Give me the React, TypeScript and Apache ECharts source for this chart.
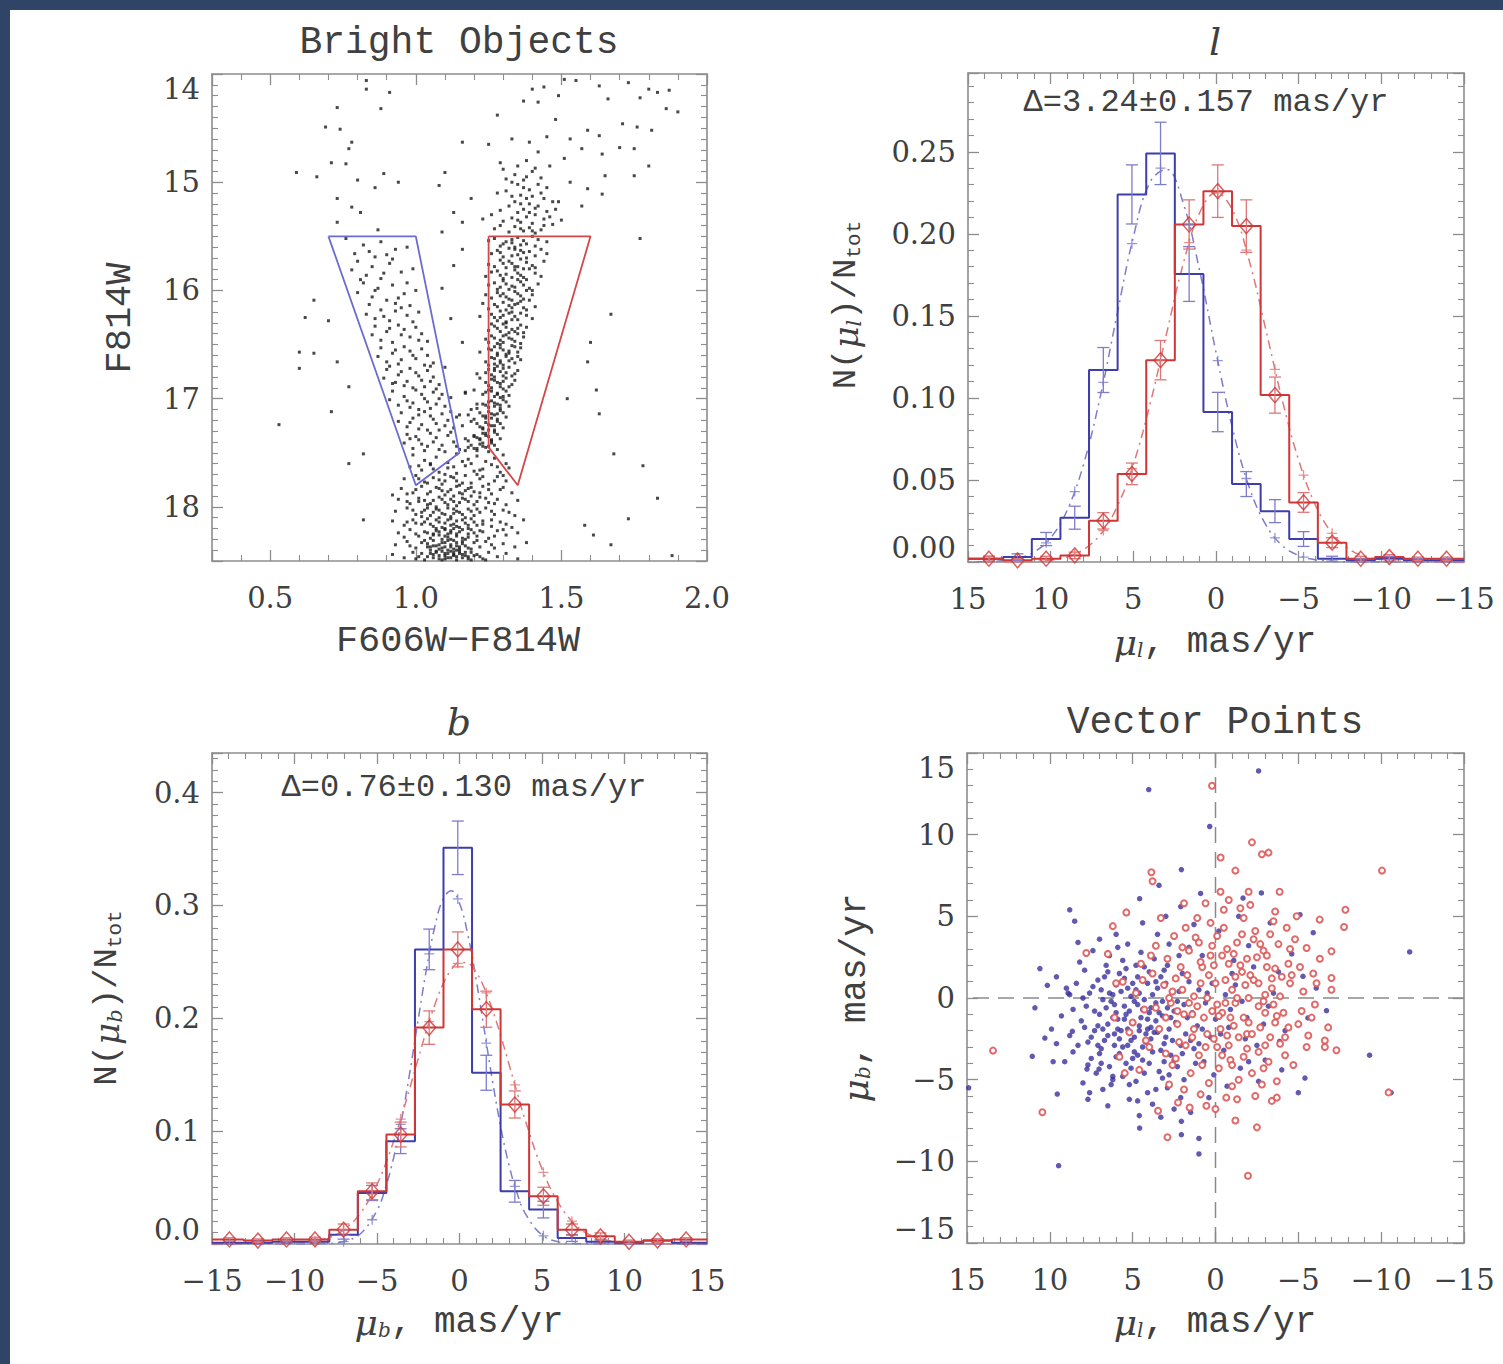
import React, { useEffect, useRef } from 'react';
import * as echarts from 'echarts';

// ---------- histogram bins (shared by the l and b panels) ----------
const binEdges = [-14.81, -13.08, -11.35, -9.62, -7.89, -6.16, -4.43, -2.70, -0.97, 0.76, 2.49, 4.22, 5.95, 7.68, 9.41, 11.14, 12.87, 14.60];
const binCenters = [-13.945, -12.215, -10.485, -8.755, -7.025, -5.295, -3.565, -1.835, -0.105, 1.625, 3.355, 5.085, 6.815, 8.545, 10.275, 12.005, 13.735];

// l panel
const lBlue = [0.001, 0.001, 0.002, 0.001, 0.002, 0.014, 0.031, 0.0475, 0.0914, 0.1755, 0.249, 0.224, 0.117, 0.027, 0.014, 0.003, 0.002];
const lBlueErr = [0.001, 0.001, 0.0015, 0.001, 0.0015, 0.0045, 0.007, 0.0076, 0.012, 0.0167, 0.019, 0.018, 0.0137, 0.007, 0.004, 0.002, 0.0015];
const lRed = [0.002, 0.002, 0.003, 0.002, 0.0118, 0.0363, 0.1017, 0.2047, 0.226, 0.2057, 0.123, 0.0537, 0.0251, 0.004, 0.002, 0.001, 0.002];
const lRedErr = [0.001, 0.001, 0.0015, 0.0015, 0.003, 0.006, 0.011, 0.016, 0.016, 0.015, 0.012, 0.0066, 0.005, 0.002, 0.0015, 0.001, 0.0015];
const lFitBlueAtBins = [null, null, null, null, null, 0.003, 0.0147, 0.0509, 0.1227, 0.2057, 0.24, 0.194, 0.1095, 0.0429, 0.0117, null, null];
const lFitRedAtBins = [null, null, null, null, 0.0175, 0.053, 0.1174, 0.19, 0.225, 0.1946, 0.123, 0.0569, 0.0192, 0.0047, null, null, null];
const lGaussX = [-15, -14, -13, -12, -11, -10, -9, -8, -7, -6, -5, -4, -3, -2, -1, 0, 1, 2, 3, 4, 5, 6, 7, 8, 9, 10, 11, 12, 13, 14, 15];
const lGaussBlue = [0, 0, 0, 0, 0, 0, 0, 0.0001, 0.0004, 0.0014, 0.004, 0.0101, 0.0229, 0.0459, 0.0814, 0.1278, 0.178, 0.2193, 0.2393, 0.2313, 0.198, 0.15, 0.1008, 0.0599, 0.0316, 0.0147, 0.0061, 0.0022, 0.0007, 0.0002, 0.0001];
const lGaussRed = [0, 0, 0, 0.0002, 0.0005, 0.0013, 0.0034, 0.0081, 0.0178, 0.035, 0.062, 0.099, 0.1422, 0.184, 0.2144, 0.225, 0.2126, 0.181, 0.1387, 0.0958, 0.0595, 0.0333, 0.0167, 0.0077, 0.0031, 0.0011, 0.0004, 0.0001, 0, 0, 0];

// b panel
const bBlue = [0.001, 0.001, 0.002, 0.002, 0.0083, 0.0452, 0.0911, 0.261, 0.351, 0.1517, 0.0467, 0.0305, 0.0053, 0.002, 0.001, 0.003, 0.001];
const bBlueErr = [0.0015, 0.0015, 0.0015, 0.0015, 0.004, 0.0067, 0.011, 0.018, 0.0237, 0.0155, 0.0096, 0.0074, 0.003, 0.0015, 0.0015, 0.0015, 0.0015];
const bRed = [0.004, 0.003, 0.004, 0.004, 0.0127, 0.0467, 0.097, 0.1917, 0.261, 0.208, 0.1236, 0.0423, 0.0127, 0.0068, 0.002, 0.003, 0.004];
const bRedErr = [0.0015, 0.0015, 0.0015, 0.002, 0.005, 0.0074, 0.011, 0.0148, 0.0155, 0.016, 0.012, 0.008, 0.005, 0.003, 0.0015, 0.0015, 0.0015];
const bFitBlueAtBins = [null, null, null, null, 0.0021, 0.0215, 0.106, 0.257, 0.3057, 0.178, 0.051, 0.0072, null, null, null, null, null];
const bFitRedAtBins = [null, null, null, 0.0025, 0.0124, 0.0441, 0.1107, 0.197, 0.2487, 0.2225, 0.141, 0.0635, 0.0202, 0.0046, null, null, null];
const bGaussX = [-15, -12, -10, -8, -7, -6, -5, -4.5, -4, -3.5, -3, -2.5, -2, -1.5, -1, -0.5, 0, 0.5, 1, 1.5, 2, 2.5, 3, 3.5, 4, 5, 6, 7, 8, 10, 12, 15];
const bGaussBlue = [0, 0, 0, 0.0004, 0.0022, 0.0091, 0.0297, 0.049, 0.076, 0.111, 0.1532, 0.199, 0.2438, 0.281, 0.3055, 0.313, 0.3019, 0.2745, 0.2352, 0.19, 0.1444, 0.1035, 0.0699, 0.0445, 0.0267, 0.008, 0.0019, 0.0004, 0.0001, 0, 0, 0];
const bGaussRed = [0, 0, 0.0006, 0.0053, 0.0127, 0.0274, 0.0529, 0.0702, 0.0907, 0.1138, 0.1388, 0.1644, 0.1893, 0.2118, 0.2301, 0.243, 0.2494, 0.2488, 0.241, 0.2269, 0.2075, 0.1845, 0.1593, 0.1337, 0.109, 0.0665, 0.0362, 0.0175, 0.0076, 0.001, 0.0001, 0];

// ---------- CMD (colour, magnitude) ----------
const cmdField = [0.83,14.06, 0.83,14.14, 0.91,14.17, 0.73,14.31, 0.88,14.32, 0.69,14.49, 0.74,14.51, 0.78,14.63, 0.77,14.69, 0.71,14.82, 0.76,14.83, 0.59,14.91, 0.66,14.95, 0.8,14.98, 0.89,14.92, 0.86,15.05, 0.94,15.0, 0.73,15.15, 0.78,15.23, 0.81,15.28, 0.73,15.37, 0.87,15.44, 1.08,15.03, 1.13,15.28, 1.16,15.37, 1.09,15.46, 1.16,15.62, 0.65,16.09, 0.62,16.25, 0.7,16.28, 0.6,16.57, 0.65,16.58, 0.73,16.66, 0.6,16.72, 0.77,16.89, 0.53,17.24, 0.77,17.6, 0.82,17.51, 0.71,17.12, 0.92,17.89, 0.82,18.12, 1.01,17.15, 1.1,16.71, 1.16,16.48, 1.12,16.26, 1.09,15.98, 1.13,15.77, 1.18,17.15, 1.17,16.94,
  1.51,14.05, 1.55,14.06, 1.63,14.11, 1.66,14.23, 1.73,14.08, 1.77,14.22, 1.8,14.14, 1.83,14.17, 1.87,14.15, 1.9,14.35, 1.86,14.32, 1.71,14.46, 1.76,14.49, 1.81,14.52, 1.63,14.57, 1.59,14.52, 1.53,14.6, 1.48,14.42, 1.42,14.26, 1.4,14.14, 1.37,14.25, 1.44,14.12, 1.49,14.2, 1.45,14.58, 1.39,14.63, 1.57,14.69, 1.64,14.74, 1.7,14.68, 1.75,14.69, 1.8,14.85, 1.75,14.94, 1.65,14.94, 1.59,15.06, 1.64,15.11, 1.53,15.0, 1.49,15.18, 1.57,15.22, 1.77,15.52, 1.67,16.22, 1.6,16.48, 1.59,16.66, 1.62,16.92, 1.52,17.0, 1.63,17.14, 1.68,17.51, 1.73,18.11, 1.58,18.17, 1.61,18.26, 1.78,17.62, 1.83,17.92, 1.88,18.45, 1.67,18.35, 1.28,14.38, 1.33,14.6, 1.25,14.65, 1.29,14.82, 1.16,14.63, 1.1,14.91, 1.19,15.15, 1.23,15.34, 1.46,14.85, 1.51,14.78, 1.42,14.72];
const cmdClump = [1.30,14.88, 1.35,14.85, 1.40,14.90, 1.38,14.95, 1.33,15.00, 1.42,15.02, 1.45,15.05, 1.37,15.05, 1.31,15.08, 1.28,15.10, 1.36,15.12, 1.40,15.13, 1.44,15.15, 1.47,15.18, 1.34,15.18, 1.39,15.20, 1.32,15.22, 1.42,15.22, 1.37,15.25, 1.29,15.26, 1.45,15.27, 1.35,15.28, 1.41,15.30, 1.38,15.32, 1.33,15.33, 1.44,15.34, 1.30,15.36, 1.36,15.37, 1.40,15.38, 1.47,15.39, 1.34,15.41, 1.39,15.42, 1.27,15.43, 1.43,15.44, 1.37,15.45, 1.32,15.46, 1.41,15.47, 1.36,15.20, 1.38,15.15, 1.43,15.10, 1.35,15.35, 1.39,15.28, 1.41,15.24, 1.33,15.13, 1.46,15.32, 1.31,14.97, 1.37,14.98, 1.43,14.96, 1.39,15.07, 1.35,15.02, 1.48,15.25, 1.26,15.30, 1.50,15.35, 1.29,15.40, 1.44,15.40, 1.36,15.43, 1.40,15.45, 1.34,14.93, 1.41,14.87, 1.38,14.80];
const cmdRightBranch = [1.27,15.52, 1.31,15.55, 1.35,15.51, 1.38,15.57, 1.42,15.53, 1.29,15.59, 1.33,15.56, 1.40,15.50, 1.36,15.58, 1.45,15.55, 1.25,15.54,
  1.28,15.63, 1.32,15.61, 1.35,15.67, 1.39,15.64, 1.43,15.62, 1.30,15.69, 1.37,15.65, 1.26,15.66, 1.41,15.68, 1.34,15.62,
  1.29,15.72, 1.33,15.75, 1.36,15.71, 1.40,15.77, 1.27,15.78, 1.31,15.79, 1.38,15.74, 1.44,15.73, 1.35,15.78, 1.25,15.76,
  1.28,15.82, 1.31,15.85, 1.34,15.81, 1.37,15.88, 1.41,15.84, 1.30,15.89, 1.36,15.86, 1.26,15.83, 1.39,15.80, 1.43,15.87,
  1.27,15.93, 1.30,15.91, 1.33,15.96, 1.36,15.92, 1.39,15.98, 1.32,15.99, 1.29,15.97, 1.42,15.94, 1.35,15.90, 1.25,15.95,
  1.28,16.02, 1.31,16.06, 1.34,16.01, 1.37,16.08, 1.40,16.04, 1.33,16.09, 1.26,16.07, 1.30,16.03, 1.36,16.05, 1.38,16.00,
  1.27,16.13, 1.30,16.11, 1.33,16.16, 1.35,16.12, 1.38,16.18, 1.29,16.19, 1.32,16.14, 1.41,16.15, 1.25,16.17, 1.36,16.10,
  1.26,16.22, 1.29,16.25, 1.32,16.21, 1.35,16.27, 1.38,16.23, 1.31,16.29, 1.28,16.28, 1.34,16.24, 1.40,16.26, 1.33,16.20,
  1.27,16.33, 1.30,16.31, 1.33,16.36, 1.36,16.32, 1.29,16.38, 1.32,16.39, 1.35,16.35, 1.25,16.37, 1.38,16.34, 1.31,16.30,
  1.26,16.42, 1.29,16.46, 1.31,16.41, 1.34,16.47, 1.37,16.43, 1.28,16.49, 1.32,16.44, 1.35,16.40, 1.30,16.48, 1.24,16.45,
  1.27,16.52, 1.30,16.55, 1.33,16.51, 1.35,16.57, 1.28,16.58, 1.31,16.59, 1.25,16.54, 1.36,16.53, 1.29,16.50, 1.32,16.56,
  1.26,16.62, 1.29,16.65, 1.31,16.61, 1.34,16.67, 1.27,16.68, 1.30,16.69, 1.33,16.63, 1.24,16.66, 1.36,16.64, 1.28,16.60,
  1.27,16.72, 1.29,16.75, 1.32,16.71, 1.34,16.77, 1.26,16.78, 1.30,16.79, 1.25,16.73, 1.31,16.76, 1.28,16.70, 1.35,16.74,
  1.26,16.82, 1.28,16.85, 1.31,16.81, 1.33,16.87, 1.25,16.88, 1.29,16.89, 1.30,16.84, 1.27,16.80, 1.34,16.83,
  1.25,16.92, 1.28,16.95, 1.30,16.91, 1.32,16.97, 1.27,16.98, 1.29,16.99, 1.24,16.94, 1.31,16.93, 1.26,16.90,
  1.26,17.02, 1.28,17.05, 1.30,17.01, 1.32,17.07, 1.25,17.08, 1.29,17.09, 1.27,17.04, 1.24,17.06, 1.31,17.03,
  1.25,17.12, 1.27,17.15, 1.29,17.11, 1.31,17.17, 1.24,17.18, 1.28,17.19, 1.26,17.14, 1.30,17.13, 1.23,17.16,
  1.24,17.22, 1.26,17.25, 1.28,17.21, 1.30,17.27, 1.23,17.28, 1.27,17.29, 1.25,17.24, 1.29,17.23, 1.22,17.26,
  1.23,17.32, 1.25,17.35, 1.27,17.31, 1.29,17.37, 1.22,17.38, 1.26,17.39, 1.24,17.34, 1.28,17.33, 1.21,17.36,
  1.22,17.42, 1.24,17.45, 1.26,17.41, 1.28,17.47, 1.21,17.48, 1.25,17.49, 1.23,17.44, 1.27,17.43, 1.20,17.46];
const cmdRightBranch2 = [1.33,15.53, 1.37,15.54, 1.30,15.57, 1.41,15.59, 1.34,15.6, 1.29,15.65, 1.36,15.63, 1.33,15.68, 1.38,15.7, 1.45,15.66,
  1.30,15.75, 1.34,15.78, 1.37,15.8, 1.32,15.73, 1.41,15.79, 1.29,15.86, 1.35,15.84, 1.33,15.88, 1.38,15.9, 1.24,15.87,
  1.31,15.94, 1.34,15.97, 1.37,15.95, 1.28,15.99, 1.40,16.0, 1.29,16.05, 1.32,16.08, 1.35,16.03, 1.39,16.09, 1.24,16.04,
  1.28,16.15, 1.31,16.18, 1.34,16.13, 1.37,16.16, 1.23,16.12, 1.27,16.25, 1.30,16.23, 1.33,16.27, 1.36,16.21, 1.22,16.24,
  1.28,16.35, 1.31,16.34, 1.34,16.38, 1.26,16.31, 1.37,16.39, 1.27,16.44, 1.30,16.42, 1.33,16.45, 1.25,16.48, 1.36,16.49,
  1.26,16.55, 1.29,16.53, 1.32,16.58, 1.34,16.52, 1.22,16.57, 1.27,16.63, 1.29,16.67, 1.32,16.65, 1.25,16.69, 1.35,16.61,
  1.24,16.76, 1.27,16.74, 1.30,16.72, 1.33,16.79, 1.21,16.77, 1.24,16.85, 1.27,16.83, 1.29,16.86, 1.32,16.89, 1.22,16.81,
  1.23,16.96, 1.26,16.93, 1.28,16.96, 1.30,16.98, 1.20,16.92, 1.23,17.05, 1.25,17.03, 1.27,17.07, 1.29,17.06, 1.21,17.09,
  1.22,17.13, 1.24,17.16, 1.26,17.18, 1.28,17.14, 1.20,17.19, 1.21,17.23, 1.23,17.27, 1.25,17.29, 1.27,17.25, 1.19,17.21,
  1.20,17.34, 1.22,17.37, 1.24,17.32, 1.26,17.38, 1.18,17.39, 1.19,17.43, 1.21,17.46, 1.23,17.41, 1.25,17.44, 1.17,17.48];
const cmdLeftBranch = [0.76,15.52, 0.82,15.58, 0.88,15.55, 0.93,15.62, 0.79,15.66, 0.86,15.69, 0.97,15.6, 0.90,15.67,
  0.80,15.73, 0.85,15.78, 0.91,15.75, 0.95,15.83, 0.83,15.86, 0.88,15.89, 0.99,15.8, 0.78,15.81,
  0.82,15.93, 0.87,15.98, 0.92,15.95, 0.96,16.03, 0.85,16.06, 0.90,16.09, 1.00,16.0, 0.94,16.07, 0.80,16.02,
  0.84,16.13, 0.88,16.18, 0.93,16.12, 0.97,16.23, 0.86,16.26, 0.91,16.28, 1.01,16.2, 0.95,16.16, 0.99,16.29, 0.83,16.22,
  0.86,16.33, 0.90,16.38, 0.94,16.32, 0.98,16.43, 0.88,16.46, 0.92,16.48, 1.02,16.4, 0.96,16.36, 1.04,16.47, 0.85,16.41, 1.00,16.34,
  0.88,16.53, 0.92,16.58, 0.96,16.52, 1.00,16.63, 0.90,16.66, 0.94,16.68, 1.04,16.6, 0.98,16.56, 1.06,16.67, 0.87,16.61, 1.02,16.54, 0.95,16.64,
  0.90,16.73, 0.94,16.78, 0.98,16.72, 1.02,16.83, 0.92,16.86, 0.96,16.88, 1.06,16.8, 1.00,16.76, 1.08,16.87, 0.89,16.81, 1.04,16.74, 0.97,16.84, 1.03,16.89,
  0.92,16.93, 0.96,16.98, 1.00,16.92, 1.04,17.03, 0.94,17.06, 0.98,17.08, 1.08,17.0, 1.02,16.96, 1.10,17.07, 0.91,17.01, 1.06,16.94, 0.99,17.04, 1.05,17.09, 1.12,16.99,
  0.95,17.13, 0.99,17.18, 1.03,17.12, 1.07,17.23, 0.97,17.26, 1.01,17.28, 1.11,17.2, 1.05,17.16, 1.13,17.27, 0.94,17.21, 1.09,17.14, 1.02,17.24, 1.08,17.29, 1.14,17.17,
  0.97,17.33, 1.01,17.38, 1.05,17.32, 1.09,17.43, 0.99,17.46, 1.03,17.48, 1.13,17.4, 1.07,17.36, 1.15,17.47, 0.96,17.41, 1.11,17.34, 1.04,17.44, 1.10,17.49, 1.17,17.37,
  1.17,16.95, 1.19,17.1, 1.16,17.25, 1.20,17.35, 1.18,17.45, 1.21,17.05, 1.15,17.15];
const cmdLeftBranch2 = [0.84,15.64, 0.92,15.71, 0.81,15.9, 0.89,15.84, 0.97,15.93, 0.86,16.0, 0.93,16.19, 0.89,16.24, 0.98,16.14, 0.95,16.41, 0.91,16.35, 1.01,16.46, 0.93,16.55, 0.99,16.6, 1.03,16.69, 0.91,16.7, 0.95,16.75, 1.01,16.79, 1.05,16.84, 0.99,16.9, 0.93,16.85, 1.03,17.0, 1.07,17.05, 0.97,17.02, 1.01,17.1, 1.06,17.19, 1.10,17.25, 0.98,17.22, 1.04,17.29, 1.12,17.31, 1.00,17.35, 1.06,17.4, 1.08,17.47, 1.02,17.42, 1.14,17.44, 0.98,17.37, 1.12,17.12, 1.09,16.96, 1.07,16.91, 1.05,16.7];
const cmdTurnoff = [0.99,17.52, 1.03,17.57, 1.07,17.54, 1.11,17.59, 1.14,17.51, 1.18,17.56, 1.21,17.53, 1.24,17.58, 1.27,17.55, 1.30,17.52, 1.05,17.6, 1.16,17.58,
  0.98,17.63, 1.02,17.66, 1.05,17.61, 1.08,17.68, 1.11,17.64, 1.14,17.69, 1.17,17.62, 1.20,17.67, 1.23,17.65, 1.26,17.61, 1.29,17.68, 1.32,17.64, 1.10,17.7, 1.19,17.6,
  0.96,17.74, 1.00,17.71, 1.03,17.77, 1.06,17.73, 1.09,17.79, 1.12,17.72, 1.14,17.76, 1.17,17.71, 1.19,17.78, 1.22,17.74, 1.25,17.79, 1.28,17.72, 1.31,17.76, 1.08,17.75, 1.15,17.8, 1.21,17.7,
  0.95,17.83, 0.99,17.87, 1.02,17.81, 1.05,17.86, 1.07,17.82, 1.10,17.89, 1.12,17.84, 1.14,17.81, 1.16,17.88, 1.18,17.83, 1.20,17.86, 1.23,17.81, 1.26,17.88, 1.29,17.84, 1.33,17.87, 1.09,17.85, 1.13,17.9, 1.17,17.85,
  0.94,17.93, 0.98,17.97, 1.01,17.92, 1.04,17.98, 1.06,17.94, 1.08,17.91, 1.10,17.96, 1.12,17.93, 1.14,17.99, 1.16,17.92, 1.18,17.95, 1.20,17.98, 1.22,17.91, 1.25,17.96, 1.28,17.93, 1.31,17.98, 1.35,17.94, 1.07,18.0, 1.13,17.95, 1.19,17.9,
  0.93,18.04, 0.97,18.01, 1.00,18.07, 1.03,18.03, 1.05,18.08, 1.07,18.02, 1.09,18.06, 1.11,18.01, 1.12,18.09, 1.14,18.04, 1.16,18.07, 1.18,18.02, 1.20,18.08, 1.22,18.05, 1.24,18.01, 1.27,18.07, 1.30,18.03, 1.34,18.08, 1.08,18.1, 1.13,18.06, 1.17,18.1, 1.02,18.09,
  0.92,18.13, 0.96,18.17, 0.99,18.12, 1.02,18.16, 1.04,18.11, 1.06,18.18, 1.08,18.14, 1.09,18.19, 1.11,18.12, 1.12,18.17, 1.14,18.13, 1.15,18.19, 1.17,18.15, 1.19,18.11, 1.21,18.17, 1.23,18.13, 1.26,18.18, 1.29,18.14, 1.33,18.19, 1.37,18.12, 1.10,18.2, 1.13,18.16, 1.07,18.2, 1.18,18.2,
  0.94,18.24, 0.98,18.21, 1.01,18.27, 1.03,18.23, 1.05,18.29, 1.07,18.22, 1.08,18.26, 1.10,18.21, 1.11,18.28, 1.12,18.24, 1.13,18.2, 1.14,18.27, 1.15,18.23, 1.16,18.29, 1.18,18.25, 1.19,18.21, 1.21,18.27, 1.23,18.23, 1.25,18.29, 1.28,18.22, 1.31,18.26, 1.35,18.24, 1.09,18.3, 1.12,18.3, 1.06,18.25, 1.17,18.3,
  0.93,18.35, 0.97,18.32, 1.00,18.38, 1.02,18.33, 1.04,18.37, 1.06,18.31, 1.07,18.36, 1.08,18.39, 1.09,18.33, 1.10,18.37, 1.11,18.31, 1.12,18.35, 1.13,18.39, 1.14,18.33, 1.15,18.37, 1.16,18.32, 1.17,18.36, 1.19,18.39, 1.20,18.33, 1.22,18.37, 1.24,18.32, 1.27,18.38, 1.30,18.34, 1.34,18.37, 1.38,18.33, 1.11,18.4, 1.14,18.4, 1.05,18.4,
  0.92,18.44, 0.96,18.47, 0.99,18.42, 1.01,18.46, 1.03,18.49, 1.05,18.43, 1.06,18.47, 1.07,18.41, 1.08,18.45, 1.09,18.49, 1.10,18.43, 1.11,18.47, 1.12,18.41, 1.13,18.45, 1.14,18.49, 1.15,18.43, 1.16,18.47, 1.17,18.42, 1.18,18.46, 1.19,18.49, 1.21,18.44, 1.23,18.48, 1.25,18.42, 1.28,18.46, 1.31,18.43, 1.35,18.48, 1.10,18.48, 1.13,18.44];
const cmdTurnoff2 = [1.04,18.46, 1.06,18.44, 1.08,18.48, 1.10,18.45, 1.12,18.47, 1.14,18.46, 1.16,18.44, 1.18,18.48, 1.20,18.45, 1.07,18.42, 1.09,18.41, 1.11,18.43, 1.13,18.42, 1.15,18.41, 1.17,18.45, 1.19,18.42, 1.02,18.43, 1.22,18.46, 1.24,18.49, 1.00,18.48,
  1.04,18.34, 1.06,18.36, 1.08,18.35, 1.10,18.33, 1.12,18.37, 1.14,18.36, 1.16,18.34, 1.18,18.38, 1.03,18.31, 1.13,18.31, 1.21,18.31, 1.09,18.38, 1.05,18.37, 1.15,18.39, 1.26,18.35, 0.98,18.36,
  1.04,18.24, 1.06,18.26, 1.08,18.23, 1.10,18.27, 1.12,18.22, 1.14,18.25, 1.16,18.21, 1.18,18.28, 1.20,18.24, 1.22,18.22, 1.00,18.25, 1.27,18.27, 1.11,18.25, 0.96,18.28, 1.30,18.21,
  1.03,18.14, 1.05,18.16, 1.07,18.12, 1.10,18.15, 1.12,18.11, 1.14,18.18, 1.16,18.12, 1.18,18.17, 1.20,18.14, 1.23,18.16, 1.00,18.15, 1.26,18.12, 0.97,18.14, 1.31,18.16,
  1.02,18.05, 1.04,18.01, 1.06,18.05, 1.08,18.03, 1.10,18.07, 1.13,18.02, 1.15,18.05, 1.19,18.04, 1.21,18.02, 1.26,18.04, 0.99,18.03, 1.32,18.05,
  1.01,17.95, 1.03,17.94, 1.05,17.97, 1.09,17.93, 1.11,17.98, 1.15,17.96, 1.17,17.93, 1.21,17.95, 1.24,17.92, 1.27,17.97, 0.97,17.95,
  1.00,17.84, 1.04,17.88, 1.08,17.83, 1.11,17.86, 1.15,17.87, 1.19,17.82, 1.22,17.87, 1.25,17.84, 1.30,17.82, 0.97,17.88,
  1.01,17.74, 1.04,17.78, 1.10,17.76, 1.13,17.73, 1.16,17.78, 1.23,17.72, 1.27,17.76, 1.30,17.71, 1.01,17.62, 1.06,17.65, 1.13,17.63, 1.22,17.66, 1.28,17.63, 1.31,17.6];
const blueBox = [[0.70, 15.5], [1.0, 15.5], [1.15, 17.5], [1.0, 17.8], [0.70, 15.5]];
const redBox = [[1.25, 15.5], [1.6, 15.5], [1.35, 17.8], [1.25, 17.45], [1.25, 15.5]];

// ---------- vector point diagram (mu_l, mu_b) ----------
const vecBlue = [4.03,12.76, -2.6,13.9, 0.35,10.5, 2.06,7.86, 3.41,6.9, 4.58,6.08, 8.8,5.4, 8.5,4.7, 10.15,0.78, 10.9,-0.6, 10.3,-2.45, 11.06,-3.57, 9.8,-3.9, 9.55,-5.88, 7.7,-6.2, 9.47,-10.27, 14.9,-5.5, 4.58,-7.96, 2.06,-7.55, 2.06,-8.37, 1.0,-8.6, 1.0,-9.55, -11.72,2.82, -9.3,-3.5, -10.6,-5.8, -5.4,-4.9, -5.1,5.1, -5.9,4.0, -6.7,-0.78, -2.77,6.43, -1.66,6.12, -5.0,-5.8, -3.87,-2.65, -5.58,-1.22, -6.08,0.61, -5.28,1.33, 7.76,-4.35, 7.03,-4.35, 6.2,-5.0, 8.8,0.2, 8.64,-2.04,
  5.2,-0.8, 4.1,-1.3, 6.3,-0.2, 3.5,-2.1, 7.0,-1.0, 4.8,0.5, 2.9,-0.6, 5.9,-1.9, 3.8,0.2, 6.7,-2.6, 4.4,-3.0, 5.5,1.2, 2.4,-1.5, 7.6,0.3, 3.1,-2.8, 6.0,0.8, 4.6,-1.7, 5.8,-3.4, 2.2,0.4, 8.1,-1.4, 3.6,-0.3, 4.9,-2.4, 6.5,1.6, 1.8,-2.2, 7.3,-2.0, 5.1,0.1, 3.3,1.3, 6.2,-1.2, 4.0,-4.0, 2.7,-3.5, 5.6,2.3, 8.4,0.9, 1.4,-0.9, 6.9,-3.1, 3.9,-1.8, 4.3,1.9, 7.8,-0.5, 5.3,-2.9, 2.0,1.5, 6.4,-4.2, 3.0,0.9, 4.7,-0.4, 5.0,-3.7, 7.1,1.1, 1.1,-1.7, 6.8,-0.1, 3.4,-4.5, 4.5,2.8, 8.8,-2.3, 2.6,-2.6, 5.7,0.4, 0.6,-0.3, 6.1,-2.2, 3.7,2.4, 4.2,-2.7, 7.5,-3.7, 1.6,1.0, 5.4,-1.0, 2.3,-4.2, 6.6,2.0, 0.3,-2.4, 4.8,-5.1, 3.2,-1.1, 7.9,1.7, 5.9,3.1, 1.0,0.5, 6.3,-5.3, 2.8,3.3, 4.1,-5.8, 0.0,-1.3, -0.5,-3.2, -1.2,0.8, 1.9,-5.0, 3.5,3.9, 5.2,-6.2, -0.9,-0.7, -1.8,-2.5, 0.8,2.6, -2.3,1.9, 2.5,-6.8, -0.2,4.1, -2.9,-1.6, -1.5,-4.3, 1.3,4.5, -3.5,0.3, -0.7,-5.4, 1.5,-7.0, -2.0,3.2, 0.4,-6.1, -3.0,-3.8, -1.1,2.3, 9.3,-1.1, 9.0,0.6, 8.6,-3.3, 9.6,-2.8, 7.4,2.9, 6.0,3.9, 8.2,2.2, 4.4,4.6, 2.1,5.6, 3.0,5.0, 5.6,-4.8, 7.2,-4.6, 6.8,-5.6, 3.8,-6.5, 2.9,-5.5, 4.6,-7.2, 1.2,-4.0, 0.1,-4.7, -4.2,-2.0, -3.8,1.6, -2.6,-5.1, -4.6,2.7, -1.4,5.0, 0.9,6.4, -3.3,4.6, -4.0,-4.4,
  4.0,-0.9, 5.0,-1.5, 3.6,-1.4, 4.6,-2.0, 5.5,-0.5, 3.2,-0.2, 6.0,-0.9, 4.3,-0.1, 2.8,-1.9, 5.8,-2.5, 4.9,-3.3, 3.9,-2.5, 6.5,-1.6, 2.5,-0.8, 5.3,0.6, 4.1,0.9, 7.1,-1.7, 3.3,-3.2, 6.2,0.2, 4.7,1.3, 1.7,-1.2, 5.7,-2.0, 3.6,1.0, 2.1,-2.9, 6.9,0.5, 4.4,-3.8, 5.1,-4.3, 7.7,-2.7, 8.0,0.0, 2.9,2.0, 1.3,-3.1, 0.5,0.3, 5.4,1.8, 6.4,2.6, 3.1,-3.9, 7.0,-3.4];
const vecBlueCore = [6.6,-0.6, 5.9,-1.3, 4.5,-1.2, 3.4,-0.9, 7.3,-0.8, 6.1,-2.9, 4.2,-2.2, 5.3,-1.9, 2.7,-1.2, 3.8,-3.3, 6.8,-1.9, 4.9,-0.2, 5.6,-3.0, 7.9,-1.8, 3.0,-2.4, 6.4,0.3, 4.6,0.3, 2.3,-0.2, 5.1,-2.6, 7.5,-2.4, 3.9,-0.6, 6.0,-3.6, 4.3,-4.6, 8.3,-2.9, 2.5,-3.8, 5.4,-4.0, 3.5,0.6, 6.9,-4.0, 4.0,1.6, 1.9,-0.4, 8.6,-0.7, 5.0,0.9, 3.2,-4.9, 6.5,-2.3, 7.4,0.7, 4.7,-3.5, 2.0,-3.4, 5.8,1.5, 3.7,-2.1, 6.2,-4.8, 4.4,-0.7, 1.5,-2.6, 7.1,-2.9, 5.5,-1.3, 3.1,1.7, 8.9,0.3, 2.8,-4.7, 6.7,1.3, 4.1,-1.9, 5.2,-5.3, 0.8,-1.9, 3.6,-5.6, 7.7,-4.1, 4.8,2.0, 2.2,2.6, 6.1,-0.4, 0.2,0.9, -0.8,-1.8, -1.6,-0.2, -2.5,-2.9, -0.3,-2.2, 1.0,-2.8, -1.0,1.5, -3.2,-0.5, 0.7,-3.9, -2.0,-3.9, -0.6,0.2, 1.6,3.1, -1.9,-1.2, 9.9,-1.9, 9.1,-3.9, 10.6,1.8, 8.3,3.4, 9.6,1.3, 7.0,3.6, 5.3,3.3, 4.7,-6.3, 6.5,-6.6, 3.3,-7.3, 8.0,-5.2, 2.1,-6.1, 7.6,-5.8];
const vecRed = [0.21,13.0, -2.2,9.53, -0.31,8.6, -2.8,8.8, -3.2,8.9, -10.05,7.8, 3.87,7.7, 3.8,7.15, -1.2,7.8, -3.87,6.5, -7.84,5.4, -7.76,4.35, -6.29,4.8, 13.43,-3.22, 10.45,-7.0, 2.9,-8.53, -1.96,-10.88, -2.5,-7.92, -1.2,-7.5, -10.45,-5.78, -7.3,-3.2, -6.6,-3.0, -7.0,1.22, -7.0,2.86, -5.5,3.06, 5.48,-4.6, 7.8,2.76, 6.5,2.7, 6.2,4.4, 5.38,5.24, -3.4,-6.3, -3.7,-6.1, -0.65,-6.1, 0.55,-6.6, 1.56,-6.7, 2.26,-6.4, 3.47,-6.9,
  -1.0,0.5, 0.2,-0.8, -2.1,1.4, 0.8,1.9, -1.7,-1.2, -3.0,0.2, 1.3,0.1, -0.4,2.6, -2.6,-0.5, 0.5,-2.2, -1.3,3.4, -3.6,1.8, 1.9,-1.0, -0.8,-2.9, -2.9,2.9, 2.4,1.2, -4.1,-0.9, -0.1,3.8, -1.9,-3.1, 1.0,-3.5, -3.3,-2.4, 2.7,-0.3, -0.6,1.1, -2.4,4.1, 0.3,4.6, -4.5,0.9, 1.6,2.9, -1.1,-1.7, -3.8,3.3, 2.2,-2.7, -0.2,-4.3, -2.0,0.0, 3.1,0.8, -5.0,-1.6, 0.7,-1.2, -1.5,2.0, -3.2,-3.9, 1.2,3.7, -4.4,2.1, -0.9,-3.8, 2.9,2.4, -2.7,-1.8, 0.0,0.9, -5.3,0.4, -1.7,4.9, 1.5,-4.6, -3.9,-2.8, 3.4,-1.9, -0.5,5.4, -2.2,-4.6, 0.9,2.2, -4.8,3.6, 2.0,0.5, -1.2,-0.3, -3.5,4.7, 3.8,1.5, -2.5,2.5, 0.4,-5.2, -5.6,-2.3, 1.8,4.3, -0.3,-1.9, -4.2,-3.5, 2.6,-4.1, -1.6,1.6, -3.0,-0.9, 4.3,-0.7, -0.7,3.0, -2.8,-5.3, 1.1,-0.5, -4.0,1.3, 0.6,5.8, -1.9,-2.2, 3.6,3.2, -5.9,1.5, -0.1,-3.0, -2.3,3.6, 2.3,-1.6, -3.6,-1.5, 4.8,0.3, -1.4,-5.0, 0.1,2.0, -6.0,-0.4, 5.2,-2.1, -2.1,5.7, 1.4,-2.4, -4.7,-4.1, 4.0,-3.0, -0.8,6.0, 2.5,3.8, -3.4,0.6, -6.3,2.4, 5.6,1.0, -1.0,-4.1, 0.2,3.2, -2.6,-3.3, 3.0,-3.4, -4.3,4.3, 1.7,1.4, -5.5,-3.0, 4.5,2.1, -0.4,-0.9, -3.1,1.9, 2.8,-5.3, -1.3,-6.2, 6.1,-1.2, 3.3,4.9, -6.8,-1.8, 5.8,-3.6, -2.0,6.5, 0.9,-5.9, -4.9,5.0, 4.6,-4.4, 6.0,0.9, -7.0,0.5, 1.9,5.8, -3.7,-5.1];
const vecRedCore = [-0.6,-0.3, 0.9,0.9, -1.8,0.8, -2.9,-0.2, 0.4,1.4, -1.4,-2.4, 1.6,-0.3, -0.2,-1.1, -2.3,1.1, -3.9,0.1, 0.6,-3.0, -1.1,2.7, 2.1,1.9, -2.7,3.3, -0.5,4.3, -3.5,-0.4, 1.3,-1.9, -4.4,-1.8, -1.6,3.9, 0.1,-2.5, -2.2,-2.2, 2.6,0.4, -4.6,1.4, -0.9,-1.2, 1.8,-2.9, -3.1,2.6, 0.3,2.6, -1.3,0.0, -5.1,1.9, -2.0,-1.5, 3.6,-0.6, -0.4,-3.5, -3.7,-1.1, 2.0,3.1, -5.2,-0.8, -1.5,5.5, 1.1,4.9, -3.3,3.9, 0.8,-4.1, -2.9,-4.3, 3.9,2.6, -4.2,-2.4, 2.4,-3.7, -0.3,6.5, -6.1,0.9, 4.4,1.1, -1.0,-5.4, -2.4,-6.0, 1.9,-5.6, -5.8,-1.2, 5.0,-1.5, -3.6,5.3, 3.0,-1.2, -6.6,-2.6, -4.5,3.0, 0.0,-6.8, 4.2,-2.6, -1.7,-3.6, -0.8,2.1, 2.8,0.0, -3.0,-2.9, 1.0,3.4, -2.6,0.9, 0.5,0.0, -1.2,1.3, -0.1,-0.4, -1.9,2.4, 1.4,-1.0, -0.7,-2.3, -3.4,1.2, 2.3,-0.8];

// ---------- labels ----------
const titles = { cmd: 'Bright Objects', l: 'l', b: 'b', vec: 'Vector Points' };
const deltaL = 'Δ=3.24±0.157 mas/yr';
const deltaB = 'Δ=0.76±0.130 mas/yr';

// ---------- style constants ----------
const TXT = '#404040';
const AX = '#8d8d8d';
const BLUE = '#3d3dac';
const BLUE_L = '#7d7dcc';
const RED = '#cf3636';
const RED_L = '#de7878';
const MONO = '"Liberation Mono", "DejaVu Sans Mono", monospace';
const SERIF = '"DejaVu Serif", serif';

const pairs = (a: number[]) => {
  const r: number[][] = [];
  for (let i = 0; i < a.length; i += 2) r.push([a[i], a[i + 1]]);
  return r;
};
const minus = (v: number) => (v < 0 ? '\u2212' + String(-v) : String(v));

function stepLine(values: number[]) {
  const pts: number[][] = [];
  values.forEach((v, i) => {
    pts.push([i === 0 ? -15 : binEdges[i], v]);
    pts.push([i === values.length - 1 ? 15 : binEdges[i + 1], v]);
  });
  return pts;
}

function axisPair(kind: 'x' | 'y', gridIndex: number, cfg: any) {
  const base: any = {
    type: 'value', gridIndex, min: cfg.min, max: cfg.max, inverse: !!cfg.inverse,
    axisLine: { show: true, onZero: false, lineStyle: { color: AX, width: 1.6 } },
    axisTick: { show: true, inside: true, length: 11, lineStyle: { color: AX, width: 1.3 } },
    minorTick: { show: true, splitNumber: cfg.minor, length: 6, lineStyle: { color: AX, width: 1.1 } },
    splitLine: { show: false }, minorSplitLine: { show: false },
  };
  if (cfg.interval != null) base.interval = cfg.interval;
  if (cfg.splitNumber != null) base.splitNumber = cfg.splitNumber;
  const main = {
    ...base,
    position: kind === 'x' ? 'bottom' : 'left',
    axisLabel: {
      show: true, margin: kind === 'x' ? 22 : 12, fontFamily: SERIF, fontSize: 29, color: TXT,
      formatter: cfg.fmt, showMinLabel: cfg.showMin !== false, showMaxLabel: cfg.showMax !== false,
      verticalAlignMinLabel: cfg.vMin, verticalAlignMaxLabel: cfg.vMax,
    },
  };
  const mirror = { ...base, position: kind === 'x' ? 'top' : 'right', axisLabel: { show: false } };
  return [main, mirror];
}

function errSeries(gi: number, values: number[], errs: number[], color: string) {
  return {
    type: 'custom', xAxisIndex: 2 * gi, yAxisIndex: 2 * gi, silent: true, z: 4,
    data: binCenters.map((c, i) => [c, values[i], errs[i]]),
    renderItem: (params: any, api: any) => {
      const x = api.value(0), y = api.value(1), e = api.value(2);
      const t = api.coord([x, y + e]);
      const b = api.coord([x, Math.max(0, y - e)]);
      const w = 6;
      const st = { stroke: color, lineWidth: 1.3 };
      return {
        type: 'group', children: [
          { type: 'line', shape: { x1: t[0], y1: t[1], x2: b[0], y2: b[1] }, style: st },
          { type: 'line', shape: { x1: t[0] - w, y1: t[1], x2: t[0] + w, y2: t[1] }, style: st },
          { type: 'line', shape: { x1: b[0] - w, y1: b[1], x2: b[0] + w, y2: b[1] }, style: st },
        ],
      };
    },
  };
}

const PLUS = 'path://M0,5L10,5M5,0L5,10';
function plusSeries(gi: number, values: (number | null)[], color: string) {
  return {
    type: 'scatter', xAxisIndex: 2 * gi, yAxisIndex: 2 * gi, silent: true, z: 5,
    symbol: PLUS, symbolSize: 10,
    itemStyle: { color: 'none', borderColor: color, borderWidth: 1.3 },
    data: binCenters.map((c, i) => (values[i] == null ? null : [c, values[i]])).filter(Boolean),
  };
}

function histSeries(gi: number, blue: number[], blueErr: number[], red: number[], redErr: number[],
  gx: number[], gBlue: number[], gRed: number[], fitBlue: (number | null)[], fitRed: (number | null)[]) {
  const ax = { xAxisIndex: 2 * gi, yAxisIndex: 2 * gi };
  return [
    { type: 'line', ...ax, data: gx.map((x, i) => [x, gBlue[i]]), smooth: 0.4, symbol: 'none', silent: true, z: 2,
      lineStyle: { color: BLUE_L, width: 1.5, type: [9, 5, 2, 5] } },
    { type: 'line', ...ax, data: gx.map((x, i) => [x, gRed[i]]), smooth: 0.4, symbol: 'none', silent: true, z: 2,
      lineStyle: { color: RED_L, width: 1.5, type: [9, 5, 2, 5] } },
    { type: 'line', ...ax, data: stepLine(blue), symbol: 'none', silent: true, z: 3,
      lineStyle: { color: BLUE, width: 2 } },
    { type: 'line', ...ax, data: stepLine(red), symbol: 'none', silent: true, z: 3,
      lineStyle: { color: RED, width: 2 } },
    errSeries(gi, blue, blueErr, BLUE_L),
    errSeries(gi, red, redErr, RED_L),
    plusSeries(gi, fitBlue, BLUE_L),
    plusSeries(gi, fitRed, RED_L),
    { type: 'scatter', ...ax, silent: true, z: 6, symbol: 'diamond', symbolSize: [13, 15],
      itemStyle: { color: 'rgba(0,0,0,0)', borderColor: RED, borderWidth: 1.5 },
      data: binCenters.map((c, i) => [c, red[i]]) },
  ];
}

function txt(x: number, y: number, text: string, size: number, family: string, extra: any = {}) {
  return {
    type: 'text', x, y, silent: true, rotation: extra.rotation || 0,
    style: {
      text, fontSize: size, fontFamily: family, fill: TXT, fontStyle: extra.italic ? 'italic' : 'normal',
      textAlign: 'center', textVerticalAlign: 'middle', verticalAlign: 'middle', rich: extra.rich,
    },
  };
}

const subRich = (main: number, sub: number) => ({
  a: { fontSize: main, fontFamily: MONO, color: TXT },
  m: { fontSize: main, fontFamily: SERIF, fontStyle: 'italic', color: TXT },
  s: { fontSize: sub, fontFamily: MONO, color: TXT, padding: [16, 0, 0, 0] },
  si: { fontSize: sub, fontFamily: SERIF, fontStyle: 'italic', color: TXT, padding: [16, 0, 0, 0] },
});

export default function App() {
  const ref = useRef<HTMLDivElement>(null);
  useEffect(() => {
    if (!ref.current) return;
    const chart = echarts.init(ref.current, null, { renderer: 'svg' });
    const xAxis = [
      ...axisPair('x', 0, { min: 0.3, max: 2.0, splitNumber: 3, minor: 5, fmt: (v: number) => v.toFixed(1), showMin: false }),
      ...axisPair('x', 1, { min: -15, max: 15, interval: 5, minor: 5, inverse: true, fmt: minus }),
      ...axisPair('x', 2, { min: -15, max: 15, interval: 5, minor: 5, fmt: minus }),
      ...axisPair('x', 3, { min: -15, max: 15, interval: 5, minor: 5, inverse: true, fmt: minus }),
    ];
    const yAxis = [
      ...axisPair('y', 0, { min: 14, max: 18.5, interval: 1, minor: 10, inverse: true, fmt: (v: number) => String(v), showMax: false, vMin: 'top' }),
      ...axisPair('y', 1, { min: 0, max: 0.298, interval: 0.05, minor: 5, fmt: (v: number) => v.toFixed(2), showMax: false, vMin: 'bottom' }),
      ...axisPair('y', 2, { min: 0, max: 0.435, interval: 0.1, minor: 10, fmt: (v: number) => v.toFixed(1), showMax: false, vMin: 'bottom' }),
      ...axisPair('y', 3, { min: -15, max: 15, interval: 5, minor: 5, fmt: minus, vMin: 'bottom', vMax: 'top' }),
    ];

    const cmdAll = [...pairs(cmdField), ...pairs(cmdClump), ...pairs(cmdRightBranch), ...pairs(cmdRightBranch2),
      ...pairs(cmdLeftBranch), ...pairs(cmdLeftBranch2), ...pairs(cmdTurnoff), ...pairs(cmdTurnoff2)];

    const series: any[] = [
      { type: 'scatter', xAxisIndex: 0, yAxisIndex: 0, silent: true, symbol: 'rect', symbolSize: 3,
        itemStyle: { color: '#1a1a1a' }, data: cmdAll, z: 2 },
      { type: 'line', xAxisIndex: 0, yAxisIndex: 0, silent: true, symbol: 'none', data: blueBox, z: 3,
        lineStyle: { color: '#6c6cd0', width: 1.8 } },
      { type: 'line', xAxisIndex: 0, yAxisIndex: 0, silent: true, symbol: 'none', data: redBox, z: 3,
        lineStyle: { color: '#d24848', width: 1.8 } },
      ...histSeries(1, lBlue, lBlueErr, lRed, lRedErr, lGaussX, lGaussBlue, lGaussRed, lFitBlueAtBins, lFitRedAtBins),
      ...histSeries(2, bBlue, bBlueErr, bRed, bRedErr, bGaussX, bGaussBlue, bGaussRed, bFitBlueAtBins, bFitRedAtBins),
      { type: 'line', xAxisIndex: 6, yAxisIndex: 6, silent: true, symbol: 'none', data: [[0, -15], [0, 15]], z: 1,
        lineStyle: { color: '#8a8a8a', width: 1.5, type: [16, 9] } },
      { type: 'line', xAxisIndex: 6, yAxisIndex: 6, silent: true, symbol: 'none', data: [[-15, 0], [15, 0]], z: 1,
        lineStyle: { color: '#8a8a8a', width: 1.5, type: [16, 9] } },
      { type: 'scatter', xAxisIndex: 6, yAxisIndex: 6, silent: true, symbol: 'circle', symbolSize: 5.5, z: 2,
        itemStyle: { color: '#3a2f9c' }, data: [...pairs(vecBlue), ...pairs(vecBlueCore)] },
      { type: 'scatter', xAxisIndex: 6, yAxisIndex: 6, silent: true, symbol: 'emptyCircle', symbolSize: 6, z: 3,
        itemStyle: { color: '#dd5a5a', borderColor: '#dd5a5a', borderWidth: 1.3, opacity: 0.9 },
        data: [...pairs(vecRed), ...pairs(vecRedCore)] },
    ];

    const graphic: any[] = [
      { type: 'rect', shape: { x: 0, y: 0, width: 1503, height: 10 }, style: { fill: '#2f4466' }, silent: true },
      { type: 'rect', shape: { x: 0, y: 0, width: 10, height: 1364 }, style: { fill: '#2f4466' }, silent: true },
      txt(459, 42, titles.cmd, 38, MONO),
      txt(1215, 42, titles.l, 38, SERIF, { italic: true }),
      txt(459, 722, titles.b, 38, SERIF, { italic: true }),
      txt(1215, 722, titles.vec, 38, MONO),
      txt(1206, 102, deltaL, 32, MONO),
      txt(464, 787, deltaB, 32, MONO),
      txt(458, 641, 'F606W\u2212F814W', 37, MONO),
      txt(120, 318, 'F814W', 37, MONO, { rotation: Math.PI / 2 }),
      txt(1215, 642, '{m|μ}{si|l}{a|, mas/yr}', 36, MONO, { rich: subRich(36, 20) }),
      txt(459, 1322, '{m|μ}{si|b}{a|, mas/yr}', 36, MONO, { rich: subRich(36, 20) }),
      txt(1215, 1322, '{m|μ}{si|l}{a|, mas/yr}', 36, MONO, { rich: subRich(36, 20) }),
      txt(855, 998, '{m|μ}{si|b}{a|, mas/yr}', 36, MONO, { rotation: Math.PI / 2, rich: subRich(36, 20) }),
      txt(846, 305, '{a|N(}{m|μ}{si|l}{a|)/N}{s|tot}', 34, MONO, { rotation: Math.PI / 2, rich: subRich(34, 21) }),
      txt(107, 998, '{a|N(}{m|μ}{si|b}{a|)/N}{s|tot}', 34, MONO, { rotation: Math.PI / 2, rich: subRich(34, 21) }),
    ];

    chart.setOption({
      animation: false,
      backgroundColor: '#ffffff',
      grid: [
        { left: 212, top: 74, width: 495, height: 487, outerBoundsMode: 'none', containLabel: false },
        { left: 968, top: 73, width: 496, height: 489, outerBoundsMode: 'none', containLabel: false },
        { left: 212, top: 753, width: 495, height: 491, outerBoundsMode: 'none', containLabel: false },
        { left: 967, top: 753, width: 497, height: 490, outerBoundsMode: 'none', containLabel: false },
      ],
      xAxis, yAxis, series, graphic,
    });
    return () => chart.dispose();
  }, []);
  return <div ref={ref} style={{ position: 'fixed', left: 0, top: 0, width: 1503, height: 1364 }} />;
}
